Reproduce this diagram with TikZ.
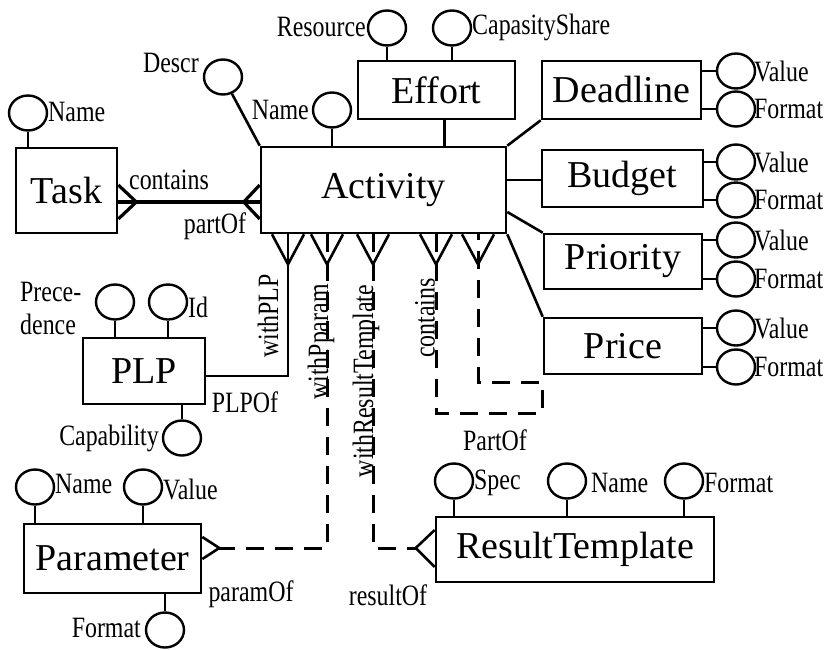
\documentclass[tikz,border=0pt]{standalone}
\usepackage{fontspec}
\setmainfont{Liberation Serif}
\newfontfamily\lblfam[FakeStretch=0.81]{Liberation Serif}
\usetikzlibrary{shapes.geometric,calc}
\tikzset{
  entity/.style={draw, line width=2.6pt, inner sep=0pt, font=\fontsize{38}{40}\selectfont},
  attr/.style={draw, ellipse, line width=2.4pt, minimum width=38pt, minimum height=35pt, inner sep=0pt},
  lbl/.style={inner sep=0pt, font=\lblfam\fontsize{29.5}{33}\selectfont},
  rel/.style={line width=2.6pt},
  thickrel/.style={line width=4.2pt},
  dashrel/.style={line width=3pt, dash pattern=on 18pt off 11pt},
}
\begin{document}
\begin{tikzpicture}[x=1pt,y=-1pt]
\useasboundingbox (0,0) rectangle (832,650);
% entities
\node[entity, minimum width=101pt, minimum height=85pt] (task) at (66.5,190.5) {Task};
\node[entity, minimum width=245pt, minimum height=86pt] (act) at (383.5,190) {Activity};
\node[entity, minimum width=157pt, minimum height=58pt] (effort) at (436.5,90) {Effort};
\node[entity, minimum width=159pt, minimum height=58pt] (deadline) at (621.5,90) {Deadline};
\node[entity, minimum width=161pt, minimum height=57pt] (budget) at (622.5,178.5) {Budget};
\node[entity, minimum width=158pt, minimum height=55pt] (priority) at (623,261.5) {Priority};
\node[entity, minimum width=158pt, minimum height=56pt] (price) at (623,346) {Price};
\node[entity, minimum width=122pt, minimum height=66pt] (plp) at (144,371) {PLP};
\node[entity, minimum width=177pt, minimum height=69pt] (param) at (112.5,558.5) {Parameter};
\node[entity, minimum width=278pt, minimum height=65pt] (rt) at (575,549.5) {ResultTemplate};

% attributes
\node[attr] (tn) at (28,113) {};
\node[lbl, anchor=west] (tnl) at (48,112) {Name};
\draw[rel] (tn.south) -- (tn.south |- task.north);

\node[attr] (descr) at (223,77) {};
\node[lbl, anchor=east] (descrl) at (199,63) {Descr};
\draw[rel] (descr) -- (act.north west);

\node[attr] (an) at (332,110) {};
\node[lbl, anchor=east] (anl) at (309,110) {Name};
\draw[rel] (an.south) -- (an.south |- act.north);

\node[attr] (res) at (387,28) {};
\node[lbl, anchor=east] (resl) at (366,27) {Resource};
\draw[rel] (res.south) -- (res.south |- effort.north);

\node[attr] (cap) at (452,28) {};
\node[lbl, anchor=west] (capl) at (472,27) {CapasityShare};
\draw[rel] (cap.south) -- (cap.south |- effort.north);

% side entity attributes
\foreach \e/\n/\y in {deadline/dv/71, budget/bv/162, priority/pv/240, price/prv/328}{
  \node[attr] (\n) at (736,\y) {};
  \node[lbl, anchor=west] (\n l) at (754,\y) {Value};
  \draw[rel] (\n.west) -- (\n.west -| \e.east);
}
\foreach \e/\n/\y in {deadline/df/109, budget/bf/200, priority/pf/279, price/prf/367}{
  \node[attr] (\n) at (736,\y) {};
  \node[lbl, anchor=west] (\n l) at (754,\y) {Format};
  \draw[rel] (\n.west) -- (\n.west -| \e.east);
}

% PLP attributes
\node[attr] (prec) at (115,302) {};
\node[lbl, align=left, anchor=west] (precl) at (20,308) {Prece-\\dence};
\draw[rel] (prec.south) -- (prec.south |- plp.north);
\node[attr] (pid) at (168,302) {};
\node[lbl, anchor=west] (pidl) at (188,307) {Id};
\draw[rel] (pid.south) -- (pid.south |- plp.north);
\node[attr] (capb) at (182,438) {};
\node[lbl, anchor=east] (capbl) at (159,438) {Capability};
\draw[rel] (capb.north) -- (capb.north |- plp.south);

% Parameter attributes
\node[attr] (pn) at (35,487) {};
\node[lbl, anchor=west] (pnl) at (55,484) {Name};
\draw[rel] (pn.south) -- (pn.south |- param.north);
\node[attr] (pval) at (143,487) {};
\node[lbl, anchor=west] (pvall) at (163,489) {Value};
\draw[rel] (pval.south) -- (pval.south |- param.north);
\node[attr] (pfmt) at (165,630) {};
\node[lbl, anchor=east] (pfmtl) at (141,628) {Format};
\draw[rel] (pfmt.north) -- (pfmt.north |- param.south);

% ResultTemplate attributes
\node[attr] (rs) at (454,481) {};
\node[lbl, anchor=west] (rsl) at (474,483) {Spec};
\draw[rel] (rs.south) -- (rs.south |- rt.north);
\node[attr] (rn) at (567,481) {};
\node[lbl, anchor=west] (rnl) at (591,483) {Name};
\draw[rel] (rn.south) -- (rn.south |- rt.north);
\node[attr] (rfm) at (684,481) {};
\node[lbl, anchor=west] (rfml) at (704,483) {Format};
\draw[rel] (rfm.south) -- (rfm.south |- rt.north);

% Activity to side entities
\draw[rel] ([xshift=8pt]effort.south) -- ([xshift=8pt]effort.south |- act.north);
\draw[rel] (act.north east) -- (deadline.south west);
\draw[rel] ([yshift=10pt]act.east) -- ([yshift=10pt]act.east -| budget.west);
\draw[rel] ([yshift=-22pt]act.east) -- (priority.north west);
\draw[rel] (act.south east) -- (price.north west);

% Task -- Activity
\coordinate (t1) at ([yshift=-11.5pt]task.east);
\coordinate (t2) at (t1 -| act.west);
\draw[thickrel] (t1) -- (t2);
\draw[rel, line width=3.2pt] (t1) ++(0,-17) -- ++(18,17) -- ++(-18,17);
\draw[rel, line width=3.2pt] (t2) ++(0,-17) -- ++(-16,17) -- ++(16,17);
\node[lbl] (tcl) at (169,180) {contains};
\node[lbl] (tpl) at (215,226) {partOf};

% bottom crow's feet
\coordinate (f1) at (288,0 |- act.south);
\coordinate (f2) at (327,0 |- act.south);
\coordinate (f3) at (373,0 |- act.south);
\coordinate (f4) at (436,0 |- act.south);
\coordinate (f5) at (478,0 |- act.south);
\foreach \f in {f1,f2,f3,f4,f5}{
  \draw[rel] (\f) ++(-16,0) -- ++(16,30) -- ++(16,-30);
}

% withPLP
\coordinate (p1) at ([yshift=-5pt]plp.east);
\draw[rel] (f1) -- (f1 |- p1) -- (p1);
\node[lbl, rotate=90] (wplp) at (268,316) {withPLP};
\node[lbl] (plpof) at (245,402) {PLPOf};

% withPparam
\coordinate (pm) at ([yshift=10.5pt,xshift=17pt]param.east);
\draw[dashrel] (f2) -- (f2 |- pm) -- (pm);
\draw[rel] ([yshift=-11pt]pm -| param.east) -- (pm) -- ([yshift=11pt]pm -| param.east);
\node[lbl, rotate=90] (wpp) at (321,342) {withPparam};
\node[lbl] (pof) at (251,594) {paramOf};

% withResultTemplate
\coordinate (rm) at ([yshift=1.5pt,xshift=-19pt]rt.west);
\draw[dashrel] (f3) -- (f3 |- rm) -- (rm);
\draw[rel] ([yshift=18pt]rm -| rt.west) -- (rm) -- ([yshift=-19pt]rm -| rt.west);
\node[lbl, rotate=90] (wrt) at (366,381) {withResultTemplate};
\node[lbl] (rof) at (388,595) {resultOf};

% contains / PartOf self relation
\coordinate (lp1) at (542,413);
\coordinate (lp2) at (542,382);
\draw[dashrel] (f4) -- (f4 |- lp1) -- (lp1) -- (lp2) -- (lp2 -| f5) -- (f5);
\node[lbl, rotate=90] (acl) at (425,318) {contains};
\node[lbl] (apl) at (495,440) {PartOf};
\end{tikzpicture}
\end{document}
